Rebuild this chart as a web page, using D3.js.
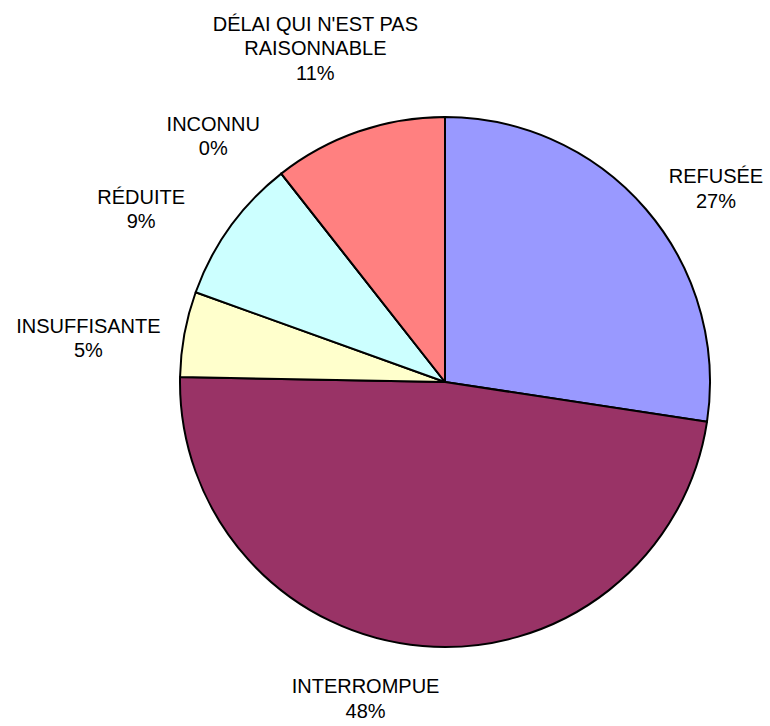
<!DOCTYPE html>
<html>
<head>
<meta charset="utf-8">
<script src="https://cdn.jsdelivr.net/npm/d3@7"></script>
<style>
  html, body { margin: 0; padding: 0; background: #fff; }
  svg { display: block; }
  text { font-family: "Liberation Sans", Arial, sans-serif; font-size: 20px; fill: #000; }
</style>
</head>
<body>
<svg id="chart" width="770" height="726"></svg>
<script>
// ---- data ----
const categories = ["REFUSÉE", "INTERROMPUE", "INSUFFISANTE", "RÉDUITE", "INCONNU", "DÉLAI QUI N'EST PAS\nRAISONNABLE"];
const values = [27.4, 47.9, 5.2, 8.9, 0, 10.6];

// ---- style / layout ----
const colors = ["#9999FF", "#993366", "#FFFFCC", "#CCFFFF", "#660066", "#FF8080"];
const labelOffsets = [[70, -26], [-57, 47], [-96, -1], [-89, -23], [-68, -43], [-43, -101]];
const cx = 445, cy = 382, radius = 265, lineGap = 24.5;

const svg = d3.select("#chart");
const g = svg.append("g").attr("transform", `translate(${cx},${cy})`);

const total = d3.sum(values);
const rows = categories.map((c, i) => ({ name: c, value: values[i], i }));

const pie = d3.pie().sort(null).value(d => d.value).startAngle(0).endAngle(2 * Math.PI);
const arcs = pie(rows);

const arc = d3.arc().innerRadius(0).outerRadius(radius);
const rimArc = d3.arc().innerRadius(radius).outerRadius(radius);

g.selectAll("path.slice")
  .data(arcs)
  .join("path")
  .attr("class", "slice")
  .attr("d", arc)
  .attr("fill", d => colors[d.data.i])
  .attr("stroke", "#000")
  .attr("stroke-width", 2)
  .attr("stroke-linejoin", "round");

const labels = g.selectAll("text.lbl")
  .data(arcs)
  .join("text")
  .attr("class", "lbl")
  .attr("text-anchor", "middle")
  .attr("transform", d => {
    const p = rimArc.centroid(d);
    const o = labelOffsets[d.data.i];
    return `translate(${p[0] + o[0]},${p[1] + o[1]})`;
  });

labels.each(function(d) {
  const lines = d.data.name.split("\n");
  lines.push(Math.round(d.data.value / total * 100) + "%");
  d3.select(this).selectAll("tspan")
    .data(lines)
    .join("tspan")
    .attr("x", 0)
    .attr("y", (l, k) => k * lineGap)
    .text(l => l);
});
</script>
</body>
</html>
